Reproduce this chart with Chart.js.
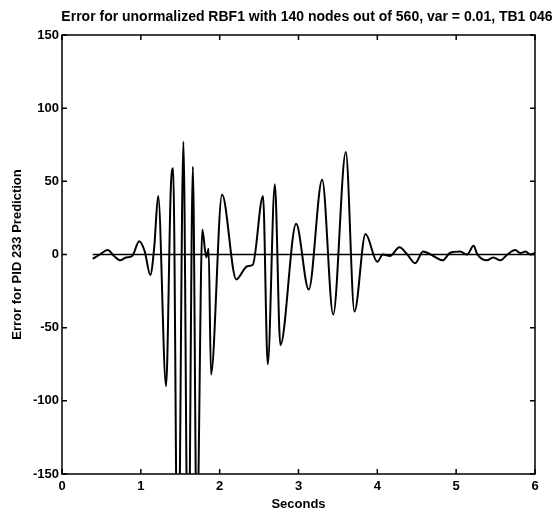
<!DOCTYPE html>
<html lang="en">
<head>
    <meta charset="UTF-8">
    <title>Error for unormalized RBF1</title>
    <script src="https://cdn.jsdelivr.net/npm/chart.js"></script>
    <style>
        body {
            margin: 0;
            background: #fff;
        }
        .chart-container {
            width: 558px;
            height: 518px;
        }
    </style>
</head>
<body>

    <div class="chart-container">
        <canvas id="errChart" width="558" height="518"></canvas>
    </div>

    <script>
        // Values (seconds, error)
        const seconds = [0.39, 0.48, 0.58, 0.66, 0.74, 0.81, 0.89, 0.98, 1.05, 1.12, 1.17, 1.22,
            1.32, 1.38, 1.41, 1.47, 1.54, 1.60, 1.66, 1.71, 1.78, 1.83, 1.86, 1.89, 2.03, 2.21,
            2.35, 2.42, 2.55, 2.61, 2.70, 2.77, 2.97, 3.13, 3.30, 3.44, 3.60, 3.71, 3.85, 4.00,
            4.07, 4.16, 4.28, 4.38, 4.48, 4.58, 4.71, 4.83, 4.92, 5.05, 5.14, 5.22, 5.27, 5.39,
            5.47, 5.56, 5.65, 5.75, 5.81, 5.88, 5.94, 6.00];
        const errors = [-3, 0, 3, -1, -4, -2, -1, 9, 2, -14, 5, 40,
            -90, 45, 59, -250, 77, -240, 60, -200, 17, -2, 4, -82, 41, -17,
            -8, -7, 40, -75, 48, -62, 21, -24, 51, -41, 70, -39, 14, -5,
            0, -1, 5, 0, -6, 2, -1, -4, 1, 2, 0, 6, 0, -4,
            -2, -4, 0, 3, 1, 2, 0, 1];
        const zeroLine = [0, 0];
        const zeroSpan = [0.39, 6];
        const xTicks = [0, 1, 2, 3, 4, 5, 6];
        const yTicks = [-150, -100, -50, 0, 50, 100, 150];

        const titleText = 'Error for unormalized RBF1 with 140 nodes out of 560, var = 0.01, TB1 046';
        const fontFam = "'Liberation Sans', Arial, sans-serif";

        // MATLAB-like box with inward ticks on all four sides
        const boxTicks = {
            id: 'boxTicks',
            afterDatasetsDraw(chart) {
                const { ctx, chartArea: a, scales: { x, y } } = chart;
                ctx.save();
                ctx.strokeStyle = '#000';
                ctx.lineWidth = 1.5;
                ctx.strokeRect(a.left, a.top, a.right - a.left, a.bottom - a.top);
                ctx.beginPath();
                xTicks.forEach(v => {
                    const px = x.getPixelForValue(v);
                    ctx.moveTo(px, a.bottom); ctx.lineTo(px, a.bottom - 5);
                    ctx.moveTo(px, a.top); ctx.lineTo(px, a.top + 5);
                });
                yTicks.forEach(v => {
                    const py = y.getPixelForValue(v);
                    ctx.moveTo(a.left, py); ctx.lineTo(a.left + 5, py);
                    ctx.moveTo(a.right, py); ctx.lineTo(a.right - 5, py);
                });
                ctx.stroke();
                ctx.restore();
            },
            afterDraw(chart) {
                const ctx = chart.ctx;
                ctx.save();
                ctx.fillStyle = '#000';
                ctx.font = 'bold 14px ' + fontFam;
                ctx.textAlign = 'center';
                ctx.textBaseline = 'middle';
                ctx.fillText(titleText, 307, 17);
                ctx.restore();
            }
        };

        const ctx = document.getElementById('errChart').getContext('2d');
        const errChart = new Chart(ctx, {
            type: 'line',
            data: {
                datasets: [{
                    data: seconds.map((s, i) => ({ x: s, y: errors[i] })),
                    borderColor: '#000',
                    borderWidth: 2,
                    pointRadius: 0,
                    cubicInterpolationMode: 'monotone',
                    fill: false
                }, {
                    data: zeroSpan.map((s, i) => ({ x: s, y: zeroLine[i] })),
                    borderColor: '#000',
                    borderWidth: 1.5,
                    pointRadius: 0,
                    fill: false
                }]
            },
            options: {
                responsive: false,
                animation: false,
                layout: { padding: { top: 35, right: 23, left: 0, bottom: 0 } },
                plugins: {
                    legend: { display: false },
                    tooltip: { enabled: false }
                },
                scales: {
                    x: {
                        type: 'linear',
                        min: 0,
                        max: 6,
                        afterFit: s => { s.height = 44; },
                        afterBuildTicks: s => { s.ticks = xTicks.map(v => ({ value: v })); },
                        grid: { display: false, drawTicks: false },
                        border: { display: false },
                        ticks: {
                            color: '#000',
                            padding: 5,
                            maxRotation: 0,
                            font: { family: fontFam, size: 13, weight: 'bold' }
                        },
                        title: {
                            display: true,
                            text: 'Seconds',
                            color: '#000',
                            padding: { top: 0, bottom: 6 },
                            font: { family: fontFam, size: 13, weight: 'bold' }
                        }
                    },
                    y: {
                        min: -150,
                        max: 150,
                        afterFit: s => { s.width = 62; },
                        afterBuildTicks: s => { s.ticks = yTicks.map(v => ({ value: v })); },
                        grid: { display: false, drawTicks: false },
                        border: { display: false },
                        ticks: {
                            color: '#000',
                            padding: 3,
                            font: { family: fontFam, size: 13, weight: 'bold' }
                        },
                        title: {
                            display: true,
                            text: 'Error for PID 233 Prediction',
                            color: '#000',
                            padding: { top: 10, bottom: 0 },
                            font: { family: fontFam, size: 13, weight: 'bold' }
                        }
                    }
                }
            },
            plugins: [boxTicks]
        });
    </script>

</body>
</html>
